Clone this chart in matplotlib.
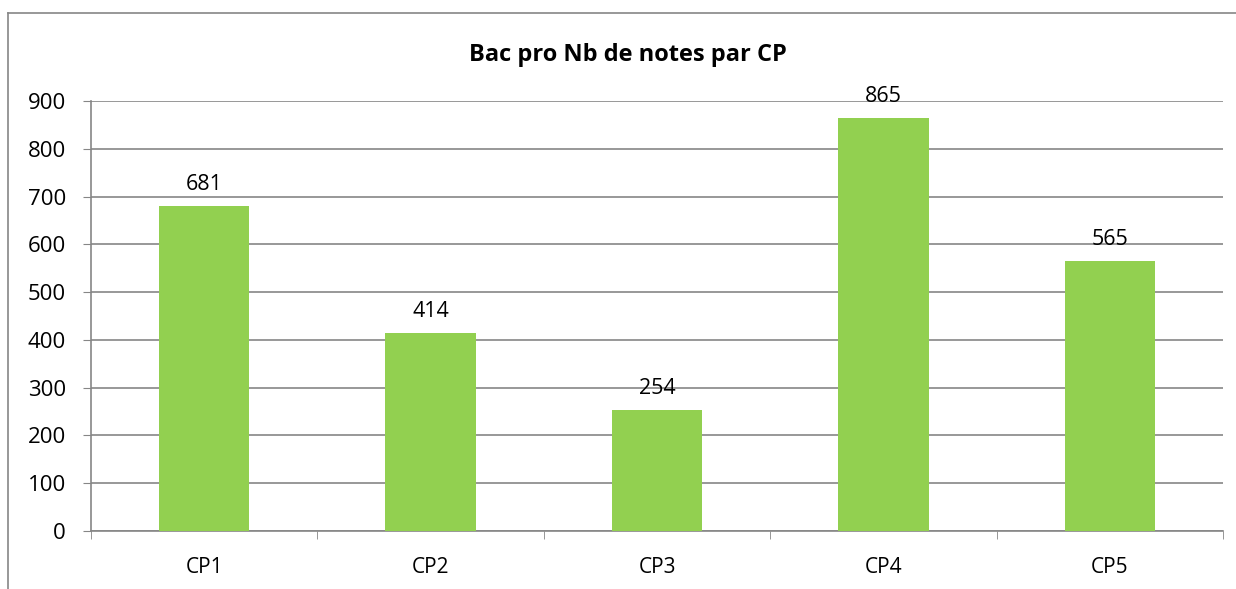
import matplotlib.pyplot as plt
from matplotlib.lines import Line2D

# data
categories = ["CP1", "CP2", "CP3", "CP4", "CP5"]
counts = [681, 414, 254, 865, 565]

plt.rcParams["font.family"] = ["Open Sans", "DejaVu Sans"]

W, H = 1236, 589
fig = plt.figure(figsize=(W / 100, H / 100), dpi=100)
ax = fig.add_axes([91 / W, 1 - 531 / H, (1223 - 91) / W, (531 - 101) / H])

x = range(len(categories))
ax.bar(x, counts, width=0.4, color="#92D050", zorder=3)
for xi, v in zip(x, counts):
    ax.annotate(str(v), (xi, v), xytext=(0, 8), textcoords="offset points",
                ha="center", va="bottom", fontsize=15.5)

ax.set_xlim(-0.5, len(categories) - 0.5)
ax.set_ylim(0, 900)
ax.set_yticks(range(0, 901, 100))
ax.set_xticks(list(x))
ax.set_xticklabels(categories)
ax.set_xticks([i - 0.5 for i in range(len(categories) + 1)], minor=True)
ax.tick_params(axis="x", which="major", length=0, pad=19, labelsize=15)
ax.tick_params(axis="x", which="minor", length=6, color="#868686")
ax.tick_params(axis="y", length=6, color="#868686", labelsize=16, pad=12)

ax.grid(axis="y", color="#868686", linewidth=1.2, zorder=0)
for s in ["top", "right"]:
    ax.spines[s].set_visible(False)
for s in ["left", "bottom"]:
    ax.spines[s].set_color("#868686")
    ax.spines[s].set_linewidth(1.2)

fig.text(628 / W, 1 - 55 / H, "Bac pro Nb de notes par CP", ha="center", va="center",
         fontsize=17, fontweight="bold")

# chart area border (cropped on the right and bottom)
fig.add_artist(Line2D([8 / W, 8 / W], [0, 1 - 13 / H], color="#868686", linewidth=1.2))
fig.add_artist(Line2D([8 / W, 1], [1 - 13 / H, 1 - 13 / H], color="#868686", linewidth=1.2))

fig.savefig("out.png", dpi=100)
